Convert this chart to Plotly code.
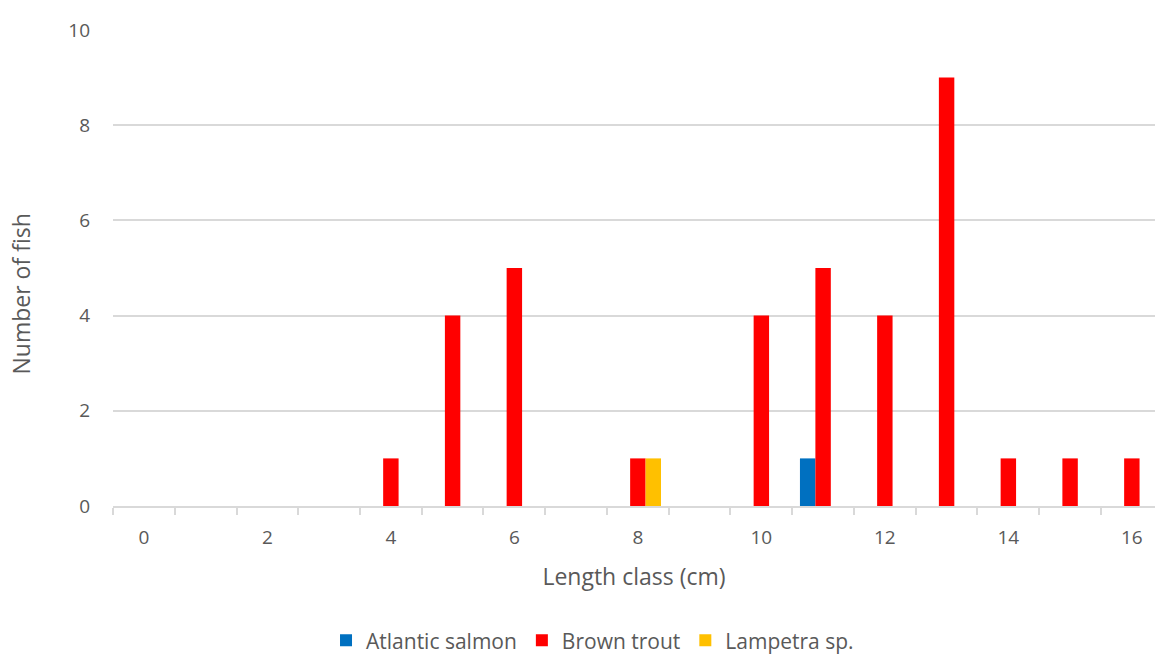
import plotly.graph_objects as go

# Length classes (cm) and catch counts per species
length_class = list(range(0, 17))
atlantic_salmon = [0, 0, 0, 0, 0, 0, 0, 0, 0, 0, 0, 1, 0, 0, 0, 0, 0]
brown_trout = [0, 0, 0, 0, 1, 4, 5, 0, 1, 0, 4, 5, 4, 9, 1, 1, 1]
lampetra = [0, 0, 0, 0, 0, 0, 0, 0, 1, 0, 0, 0, 0, 0, 0, 0, 0]

x_tick_vals = list(range(0, 17, 2))
y_tick_vals = list(range(0, 11, 2))

FONT = "Open Sans, Liberation Sans, sans-serif"
TEXT = "#595959"
GRID = "#d9d9d9"

fig = go.Figure()
for name, vals, color in [
    ("Atlantic salmon", atlantic_salmon, "#0070C0"),
    ("Brown trout", brown_trout, "#FF0000"),
    ("Lampetra sp.", lampetra, "#FFC000"),
]:
    fig.add_trace(go.Bar(x=length_class, y=vals, name=name,
                         marker=dict(color=color, line=dict(width=0))))

fig.update_layout(
    width=1155, height=657,
    margin=dict(l=113, r=0, t=30, b=151, autoexpand=False),
    paper_bgcolor="white", plot_bgcolor="white",
    barmode="group", bargap=0.25, bargroupgap=0,
    font=dict(family=FONT, color=TEXT, size=19),
    legend=dict(orientation="h", xref="container", yref="paper",
                x=0.513, xanchor="center", y=-0.283, yanchor="middle",
                font=dict(size=21, color=TEXT), itemwidth=30,
                traceorder="normal"),
    showlegend=True,
)

fig.update_xaxes(
    range=[-0.5, 16.375],
    tickmode="array", tickvals=x_tick_vals, ticks="",
    tickfont=dict(size=19, color=TEXT),
    ticklabelstandoff=13,
    showgrid=False, zeroline=False,
    showline=True, linecolor=GRID, linewidth=1.5,
    minor=dict(ticks="outside", tickmode="array",
               tickvals=[v - 0.5 for v in length_class] + [16.5],
               ticklen=7, tickcolor=GRID, tickwidth=1.5, showgrid=False),
    title=dict(text="Length class (cm)", font=dict(size=23, color=TEXT), standoff=20),
)

fig.update_yaxes(
    range=[0, 10],
    tickmode="array", tickvals=y_tick_vals,
    tickfont=dict(size=19, color=TEXT),
    ticklabelstandoff=22,
    showgrid=True, gridcolor=GRID, gridwidth=1.5,
    zeroline=False, showline=False,
)

fig.add_annotation(
    text="Number of fish", textangle=-90,
    xref="paper", yref="paper", x=-0.088, y=0.445,
    xanchor="center", yanchor="middle", showarrow=False,
    font=dict(size=23, color=TEXT, family=FONT),
)

fig.write_html("out.html")
